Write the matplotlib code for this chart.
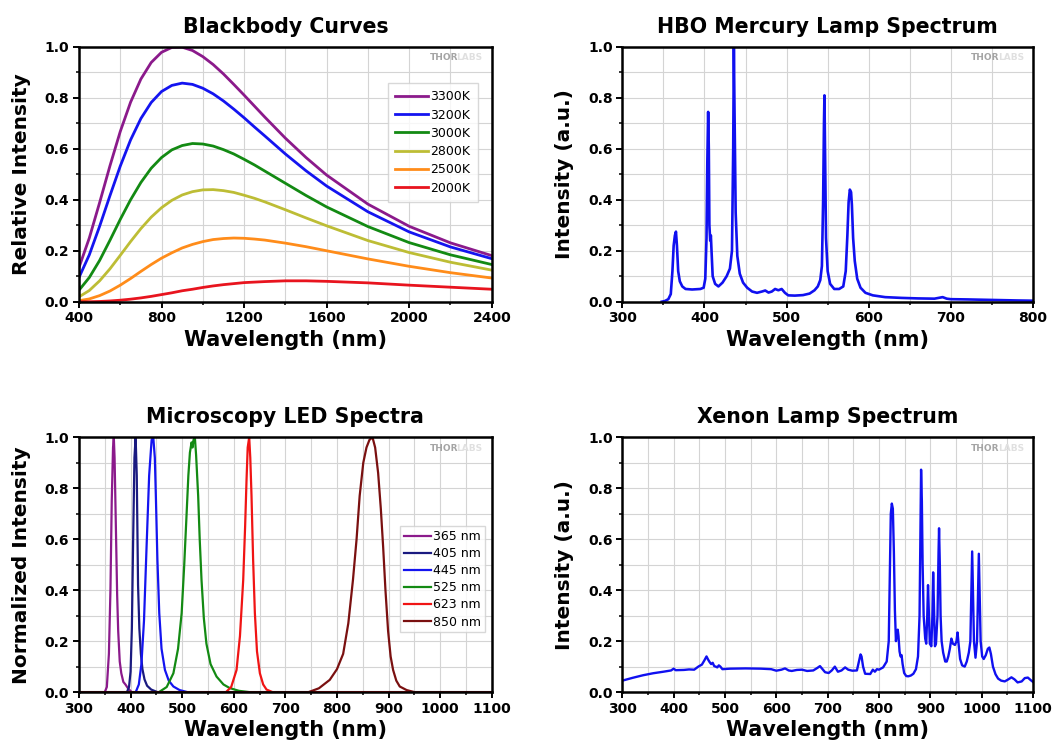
import numpy as np
import matplotlib
matplotlib.use('Agg')
import matplotlib.pyplot as plt
from matplotlib.ticker import MultipleLocator, FormatStrFormatter

plt.rcParams['font.family'] = ['DejaVu Sans']

# ---------------- Blackbody curves ----------------
bb_wl = [400, 450, 500, 550, 600, 650, 700, 750, 800, 850, 900, 950, 1000, 1050, 1100,
         1150, 1200, 1250, 1300, 1400, 1500, 1600, 1800, 2000, 2200, 2400]
bb_labels = ['3300K', '3200K', '3000K', '2800K', '2500K', '2000K']
bb_3300 = [0.134, 0.250, 0.389, 0.533, 0.668, 0.783, 0.874, 0.939, 0.979, 0.998, 0.999,
           0.986, 0.962, 0.931, 0.894, 0.853, 0.811, 0.768, 0.725, 0.642, 0.566, 0.497,
           0.383, 0.296, 0.231, 0.181]
bb_3200 = [0.095, 0.184, 0.296, 0.416, 0.532, 0.635, 0.719, 0.782, 0.825, 0.849, 0.858,
           0.853, 0.838, 0.816, 0.788, 0.756, 0.722, 0.686, 0.651, 0.580, 0.514, 0.454,
           0.353, 0.274, 0.215, 0.169]
bb_3000 = [0.045, 0.095, 0.162, 0.241, 0.323, 0.400, 0.468, 0.524, 0.566, 0.596, 0.613,
           0.621, 0.619, 0.611, 0.597, 0.580, 0.559, 0.537, 0.513, 0.465, 0.417, 0.372,
           0.295, 0.232, 0.184, 0.146]
bb_2800 = [0.019, 0.044, 0.082, 0.129, 0.182, 0.236, 0.287, 0.332, 0.369, 0.398, 0.419,
           0.432, 0.439, 0.440, 0.436, 0.429, 0.418, 0.406, 0.392, 0.361, 0.329, 0.298,
           0.240, 0.193, 0.155, 0.124]
bb_2500 = [0.004, 0.011, 0.024, 0.042, 0.065, 0.091, 0.119, 0.146, 0.171, 0.192, 0.211,
           0.225, 0.236, 0.244, 0.248, 0.250, 0.249, 0.246, 0.242, 0.230, 0.216, 0.200,
           0.168, 0.139, 0.114, 0.093]
bb_2000 = [0.000, 0.000, 0.001, 0.003, 0.006, 0.010, 0.015, 0.021, 0.028, 0.035, 0.043,
           0.049, 0.056, 0.062, 0.067, 0.071, 0.075, 0.077, 0.079, 0.082, 0.082, 0.080,
           0.074, 0.065, 0.057, 0.049]
bb_series = [bb_3300, bb_3200, bb_3000, bb_2800, bb_2500, bb_2000]
bb_colors = ['#8B1A8B', '#1414F0', '#138A13', '#BDBD35', '#FF8C1A', '#E8141E']

# ---------------- HBO mercury lamp ----------------
hg_wl = [348, 352, 356, 359, 361, 362.5, 364, 365.3, 366.5, 368, 370, 373, 377, 385,
         395, 399, 401, 402.5, 403.5, 404.5, 405.3, 406, 407, 407.8, 408.6, 410, 413,
         417, 422, 427, 431, 433.5, 435, 435.8, 436.6, 438, 440, 443, 447, 452, 458,
         464, 470, 474, 478, 482, 486, 490, 494, 498, 502, 510, 520, 528, 534, 538,
         541, 543, 544.5, 545.5, 546.1, 546.8, 548, 550, 553, 558, 564, 569, 572, 574,
         575.5, 577, 578.5, 579.5, 581, 583, 586, 590, 596, 605, 620, 640, 660, 680,
         690, 695, 700, 720, 750, 780, 800]
hg_val = [0.0, 0.003, 0.01, 0.03, 0.12, 0.22, 0.26, 0.275, 0.22, 0.12, 0.08, 0.06, 0.05,
          0.048, 0.05, 0.055, 0.09, 0.25, 0.55, 0.745, 0.6, 0.3, 0.24, 0.26, 0.2, 0.1,
          0.07, 0.06, 0.075, 0.1, 0.13, 0.2, 0.6, 1.0, 0.75, 0.35, 0.18, 0.11, 0.075,
          0.055, 0.04, 0.035, 0.04, 0.044, 0.036, 0.04, 0.05, 0.045, 0.05, 0.035, 0.025,
          0.024, 0.026, 0.032, 0.045, 0.06, 0.085, 0.14, 0.4, 0.7, 0.81, 0.6, 0.25, 0.12,
          0.07, 0.05, 0.05, 0.06, 0.12, 0.26, 0.39, 0.44, 0.43, 0.38, 0.25, 0.16, 0.09,
          0.055, 0.035, 0.025, 0.018, 0.015, 0.013, 0.012, 0.018, 0.012, 0.01, 0.009,
          0.007, 0.005, 0.004]

# ---------------- Microscopy LEDs ----------------
led_labels = ['365 nm', '405 nm', '445 nm', '525 nm', '623 nm', '850 nm']
led_colors = ['#8B1A8B', '#1A1A80', '#1414F0', '#138A13', '#F01414', '#7A1010']
led365_wl = [300, 350, 354, 358, 361, 363.5, 366, 367.5, 369, 371.5, 374, 376, 379, 382,
             386, 390, 395, 402, 1100]
led365_val = [0, 0, 0.02, 0.15, 0.4, 0.75, 0.96, 1.0, 0.92, 0.65, 0.38, 0.24, 0.12, 0.074,
              0.04, 0.03, 0.015, 0, 0]
led405_wl = [300, 393, 397, 400, 402.5, 405, 407.5, 409.8, 412, 414.5, 417, 420, 423, 427,
             432, 440, 452, 1100]
led405_val = [0, 0, 0.02, 0.08, 0.25, 0.6, 0.92, 1.0, 0.85, 0.42, 0.25, 0.15, 0.09, 0.05,
              0.025, 0.01, 0, 0]
led445_wl = [300, 410, 416, 421, 426, 431, 436, 440.8, 444, 447, 449, 452, 455.6, 460,
             466.6, 474, 483, 495, 510, 1100]
led445_val = [0, 0, 0.03, 0.11, 0.28, 0.57, 0.85, 0.99, 1.0, 0.92, 0.77, 0.52, 0.31, 0.17,
              0.087, 0.045, 0.022, 0.008, 0, 0]
led525_wl = [300, 455, 470, 483, 492, 499, 504, 508.6, 512, 515, 518.2, 520, 522, 524.6,
             527, 531, 534, 537.5, 542, 547, 555, 566.6, 580, 592, 610, 630, 1100]
led525_val = [0, 0, 0.02, 0.074, 0.17, 0.31, 0.5, 0.70, 0.85, 0.94, 0.98, 0.96, 0.99, 1.0,
              0.93, 0.77, 0.6, 0.44, 0.29, 0.19, 0.11, 0.061, 0.03, 0.016, 0.005, 0, 0]
led623_wl = [300, 585, 595, 605.4, 612, 618.3, 622, 624.7, 627, 629.9, 632, 634.4, 637.5,
             640.9, 645, 650.6, 657, 663.5, 675, 1100]
led623_val = [0, 0, 0.02, 0.087, 0.22, 0.44, 0.65, 0.83, 0.96, 1.0, 0.92, 0.77, 0.52, 0.31,
              0.16, 0.074, 0.03, 0.01, 0, 0]
led850_wl = [300, 745, 765, 786, 800, 812, 822, 831, 838, 844, 851, 857.2, 863, 868.9, 874,
             879.8, 885, 889.5, 894, 899.1, 904, 908.8, 915, 921.7, 935, 950, 1100]
led850_val = [0, 0, 0.015, 0.048, 0.09, 0.15, 0.27, 0.44, 0.6, 0.77, 0.9, 0.96, 0.99, 1.0,
              0.96, 0.86, 0.72, 0.57, 0.4, 0.24, 0.14, 0.087, 0.045, 0.022, 0.008, 0, 0]
led_wl = [led365_wl, led405_wl, led445_wl, led525_wl, led623_wl, led850_wl]
led_val = [led365_val, led405_val, led445_val, led525_val, led623_val, led850_val]

# ---------------- Xenon lamp ----------------
xe_wl = [300, 320, 340, 360, 380, 395, 400, 404, 420, 430, 440, 448, 455, 460, 464, 467,
         470, 473, 476, 479, 482, 485, 488, 491, 495, 510, 540, 570, 590, 600, 610, 617,
         624, 630, 640, 650, 660, 672, 680, 685, 690, 695, 702, 708, 714, 720, 727, 734,
         740, 748, 757, 761, 764, 766, 769, 773, 783, 788, 792, 796, 800, 808, 815, 819,
         821, 823, 825, 827, 829, 831, 833, 835, 836.5, 838, 840, 842, 844, 846, 849, 853,
         857, 862, 867, 872, 876, 879, 881, 882, 883.5, 885, 887, 890, 892, 894, 895.5,
         897, 899, 902, 904, 905.5, 907, 909, 911, 914, 916, 917, 918.5, 920, 922, 925,
         929, 932, 935, 938, 941, 944, 948, 951, 953, 955, 958, 962, 967, 971, 975, 978,
         980, 981.5, 983, 985, 988, 991, 993, 994.5, 996, 998, 1001, 1004, 1008, 1012,
         1015, 1018, 1022, 1027, 1032, 1038, 1045, 1052, 1058, 1064, 1070, 1078, 1084,
         1090, 1095, 1100]
xe_val = [0.045, 0.056, 0.066, 0.074, 0.08, 0.085, 0.092, 0.086, 0.087, 0.089, 0.088, 0.1,
          0.108, 0.125, 0.14, 0.128, 0.118, 0.11, 0.115, 0.102, 0.1, 0.097, 0.105, 0.1,
          0.09, 0.092, 0.093, 0.092, 0.09, 0.084, 0.088, 0.093, 0.085, 0.083, 0.087,
          0.088, 0.083, 0.085, 0.095, 0.102, 0.09, 0.078, 0.075, 0.085, 0.1, 0.08, 0.085,
          0.097, 0.088, 0.084, 0.085, 0.12, 0.148, 0.14, 0.1, 0.072, 0.071, 0.088, 0.08,
          0.09, 0.088, 0.097, 0.12, 0.2, 0.45, 0.7, 0.74, 0.72, 0.55, 0.32, 0.2, 0.23,
          0.245, 0.22, 0.16, 0.14, 0.145, 0.11, 0.075, 0.063, 0.062, 0.065, 0.072, 0.09,
          0.14, 0.3, 0.7, 0.873, 0.75, 0.5, 0.3, 0.21, 0.19, 0.3, 0.42, 0.32, 0.19, 0.18,
          0.3, 0.47, 0.35, 0.18, 0.19, 0.3, 0.55, 0.643, 0.5, 0.3, 0.2, 0.155, 0.12, 0.12,
          0.14, 0.17, 0.21, 0.19, 0.185, 0.2, 0.234, 0.19, 0.13, 0.105, 0.1, 0.12, 0.155,
          0.2, 0.4, 0.552, 0.4, 0.2, 0.135, 0.2, 0.4, 0.543, 0.4, 0.2, 0.14, 0.13, 0.145,
          0.17, 0.175, 0.15, 0.1, 0.07, 0.053, 0.045, 0.042, 0.05, 0.058, 0.05, 0.038,
          0.042, 0.055, 0.057, 0.048, 0.04]


def style_axes(ax, xlim, xmajor, xminor, title, ylabel):
    ax.set_xlim(*xlim)
    ax.set_ylim(0, 1.0)
    ax.xaxis.set_major_locator(MultipleLocator(xmajor))
    ax.xaxis.set_minor_locator(MultipleLocator(xminor))
    ax.yaxis.set_major_locator(MultipleLocator(0.2))
    ax.yaxis.set_minor_locator(MultipleLocator(0.1))
    ax.yaxis.set_major_formatter(FormatStrFormatter('%.1f'))
    ax.grid(True, which='both', color='#d4d4d4', lw=0.8)
    ax.set_axisbelow(True)
    for sp in ax.spines.values():
        sp.set_linewidth(1.8)
        sp.set_zorder(5)
    ax.tick_params(which='major', direction='out', length=4, width=1.4,
                   labelsize=10, pad=3)
    ax.tick_params(which='minor', direction='out', length=2.5, width=1.1)
    for lab in ax.get_xticklabels() + ax.get_yticklabels():
        lab.set_fontweight('bold')
    ax.set_title(title, fontsize=14.8, fontweight='bold', pad=10)
    ax.set_xlabel('Wavelength (nm)', fontsize=15, fontweight='bold', labelpad=3)
    ax.set_ylabel(ylabel, fontsize=14.5, fontweight='bold', labelpad=10)
    # watermark
    ax.annotate('LABS', xy=(0.978, 0.957), xycoords='axes fraction', ha='right',
                va='center', fontsize=6.5, fontweight='bold', color='#e0e0e0')
    ax.annotate('THOR', xy=(0.978, 0.957), xycoords='axes fraction', ha='right',
                va='center', fontsize=6.5, fontweight='bold', color='#a4a4a4',
                xytext=(-17.5, 0), textcoords='offset points')


fig = plt.figure(figsize=(10.53, 7.45), dpi=100)
ax1 = fig.add_axes([0.075, 0.595, 0.392, 0.342])
ax2 = fig.add_axes([0.591, 0.595, 0.390, 0.342])
ax3 = fig.add_axes([0.075, 0.071, 0.392, 0.342])
ax4 = fig.add_axes([0.591, 0.071, 0.390, 0.342])

# Blackbody
for vals, lab, col in zip(bb_series, bb_labels, bb_colors):
    ax1.plot(bb_wl, vals, color=col, lw=2, label=lab)
style_axes(ax1, (400, 2400), 400, 200, 'Blackbody Curves', 'Relative Intensity')
leg = ax1.legend(loc='upper right', bbox_to_anchor=(0.966, 0.859), fontsize=9,
                 frameon=True, fancybox=False, edgecolor='#cfcfcf', handlelength=2.6,
                 handletextpad=0.2, borderpad=0.6, labelspacing=0.42, borderaxespad=0)
leg.get_frame().set_linewidth(1.0)

# Mercury
ax2.plot(hg_wl, hg_val, color='#1010F0', lw=1.9)
style_axes(ax2, (300, 800), 100, 50, 'HBO Mercury Lamp Spectrum', 'Intensity (a.u.)')

# LEDs
for wl, vals, lab, col in zip(led_wl, led_val, led_labels, led_colors):
    ax3.plot(wl, vals, color=col, lw=1.6, label=lab)
style_axes(ax3, (300, 1100), 100, 50, 'Microscopy LED Spectra', 'Normalized Intensity')
leg = ax3.legend(loc='upper right', bbox_to_anchor=(0.983, 0.651), fontsize=9,
                 frameon=True, fancybox=False, edgecolor='#cfcfcf', handlelength=2.2,
                 handletextpad=0.15, borderpad=0.3, labelspacing=0.33, borderaxespad=0)
leg.get_frame().set_linewidth(1.0)

# Xenon
ax4.plot(xe_wl, xe_val, color='#1010F0', lw=1.7)
style_axes(ax4, (300, 1100), 100, 50, 'Xenon Lamp Spectrum', 'Intensity (a.u.)')

plt.savefig('out.png', dpi=100)
